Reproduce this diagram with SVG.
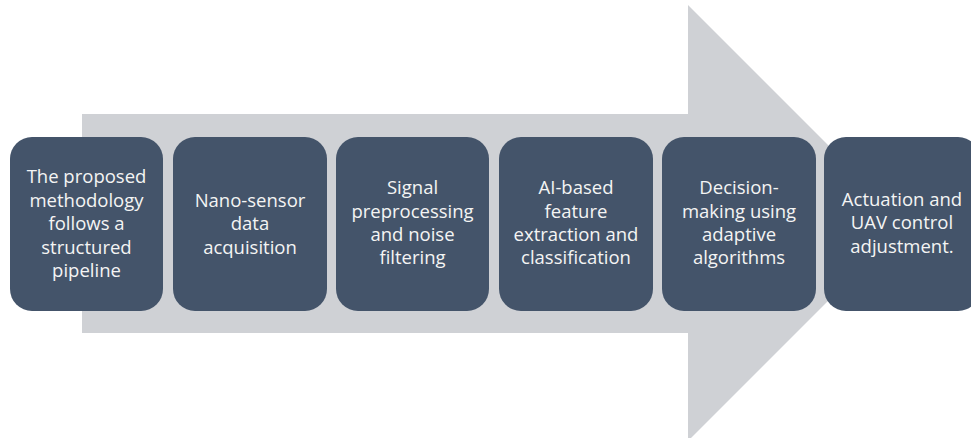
<svg xmlns="http://www.w3.org/2000/svg" width="971" height="438" viewBox="0 0 971 438">
<style>
.box{fill:#44546A;}
.t{font-family:"Open Sans","Liberation Sans",sans-serif;font-size:18.5px;fill:#F4F4F4;text-anchor:middle;}
</style>
<rect width="971" height="438" fill="#FFFFFF"/>
<g id="arrow">
<polygon points="82,114 688,114 688,5 906,223 688,441 688,333 82,333" fill="#CFD1D5"/>
</g>
<g id="n1"><rect class="box" x="10" y="137" width="153" height="174" rx="22"/>
<text class="t" x="86.5" y="183">The proposed</text><text class="t" x="86.5" y="207">methodology</text><text class="t" x="86.5" y="230">follows a</text><text class="t" x="86.5" y="254">structured</text><text class="t" x="86.5" y="277">pipeline</text></g>
<g id="n2"><rect class="box" x="173" y="137" width="154" height="174" rx="22"/>
<text class="t" x="250" y="207">Nano-sensor</text><text class="t" x="250" y="230">data</text><text class="t" x="250" y="254">acquisition</text></g>
<g id="n3"><rect class="box" x="336" y="137" width="153" height="174" rx="22"/>
<text class="t" x="412.5" y="194">Signal</text><text class="t" x="412.5" y="218">preprocessing</text><text class="t" x="412.5" y="241">and noise</text><text class="t" x="412.5" y="264">filtering</text></g>
<g id="n4"><rect class="box" x="499" y="137" width="154" height="174" rx="22"/>
<text class="t" x="576" y="194">AI-based</text><text class="t" x="576" y="218">feature</text><text class="t" x="576" y="241">extraction and</text><text class="t" x="576" y="264">classification</text></g>
<g id="n5"><rect class="box" x="662" y="137" width="154" height="174" rx="22"/>
<text class="t" x="739" y="194">Decision-</text><text class="t" x="739" y="218">making using</text><text class="t" x="739" y="241">adaptive</text><text class="t" x="739" y="264">algorithms</text></g>
<g id="n6"><rect class="box" x="824" y="137" width="156" height="174" rx="22"/>
<text class="t" x="902" y="206">Actuation and</text><text class="t" x="902" y="229">UAV control</text><text class="t" x="902" y="253">adjustment.</text></g>
<g id="connectors"></g>
</svg>
